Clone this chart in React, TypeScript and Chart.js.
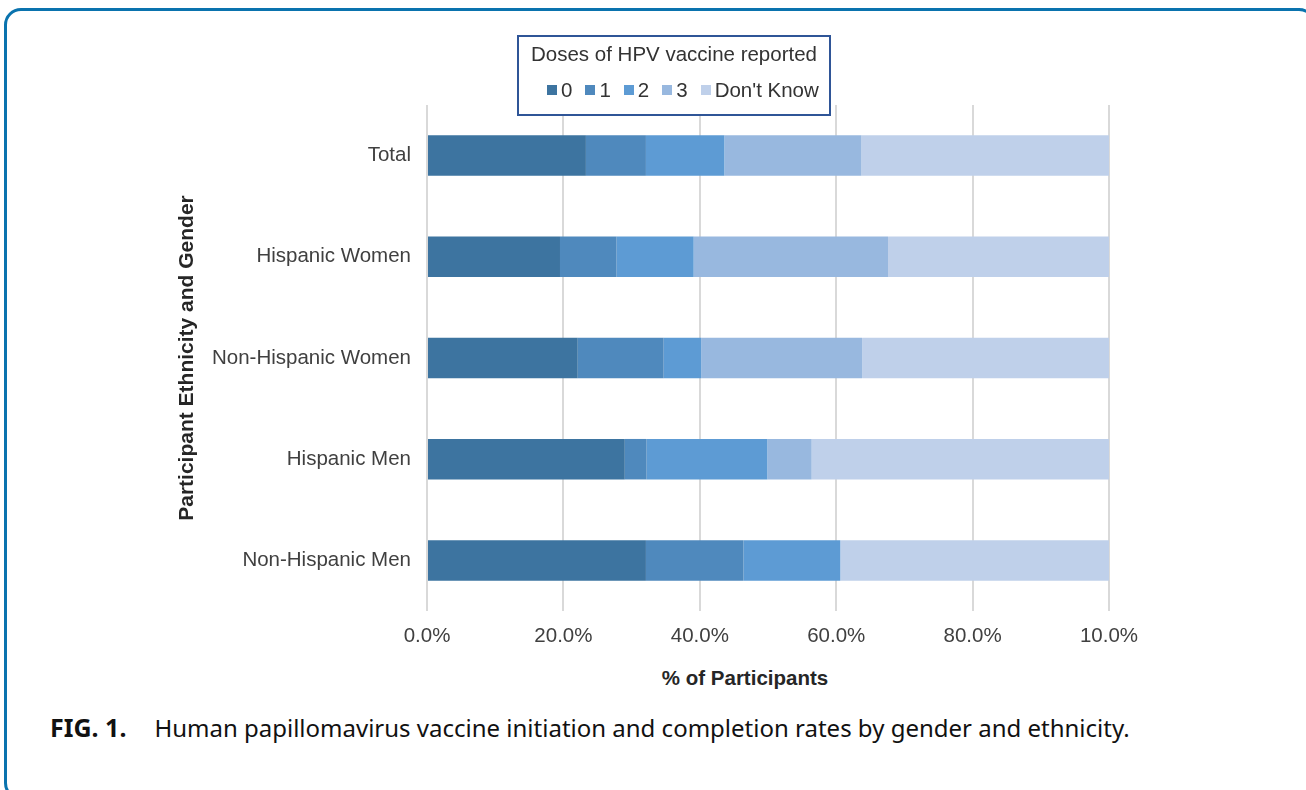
import React, { useEffect, useRef } from "react";
import { Chart, registerables } from "chart.js";

Chart.register(...registerables);

const categories = ["Total", "Hispanic Women", "Non-Hispanic Women", "Hispanic Men", "Non-Hispanic Men"];
const seriesNames = ["0", "1", "2", "3", "Don't Know"];
const dose0 = [23.3, 19.5, 22.1, 29.0, 32.1];
const dose1 = [8.8, 8.3, 12.6, 3.2, 14.3];
const dose2 = [11.5, 11.3, 5.5, 17.7, 14.2];
const dose3 = [20.1, 28.5, 23.6, 6.5, 0];
const dontKnow = [36.3, 32.4, 36.2, 43.6, 39.4];
const seriesColors = ["#3d74a0", "#4f89bd", "#5d9bd4", "#98b8df", "#bfd0ea"];
const xTickLabels = ["0.0%", "20.0%", "40.0%", "60.0%", "80.0%", "10.0%"];

const FONT = "'Liberation Sans', Arial, Helvetica, sans-serif";

export default function App() {
  const ref = useRef<HTMLCanvasElement | null>(null);

  useEffect(() => {
    if (!ref.current) return;
    const values = [dose0, dose1, dose2, dose3, dontKnow];
    const chart = new Chart(ref.current, {
      type: "bar",
      data: {
        labels: categories,
        datasets: seriesNames.map((name, i) => ({
          label: name,
          data: values[i],
          backgroundColor: seriesColors[i],
          borderWidth: 0,
          categoryPercentage: 0.4,
          barPercentage: 1,
        })),
      },
      options: {
        indexAxis: "y",
        animation: false,
        responsive: false,
        devicePixelRatio: 1,
        layout: { padding: { left: 175, top: 105, right: 197, bottom: 9 } },
        plugins: { legend: { display: false }, tooltip: { enabled: false }, title: { display: false } },
        scales: {
          x: {
            stacked: true,
            min: 0,
            max: 100,
            ticks: {
              stepSize: 20,
              padding: 13,
              color: "#404040",
              font: { family: FONT, size: 20.5 },
              callback: (_v: any, i: number) => xTickLabels[i],
            },
            grid: { color: "#d9d9d9", lineWidth: 2, drawTicks: false },
            border: { display: false },
            afterFit: (s: any) => { s.height = 40; },
          },
          y: {
            stacked: true,
            ticks: {
              padding: 16,
              color: "#404040",
              font: { family: FONT, size: 20.5 },
            },
            grid: { display: false, drawTicks: false },
            border: { display: false },
            title: {
              display: true,
              text: "Participant Ethnicity and Gender",
              color: "#262626",
              padding: 0,
              font: { family: FONT, size: 21, weight: "bold" },
            },
            afterFit: (s: any) => { s.width = 252; },
          },
        },
      },
    });
    return () => chart.destroy();
  }, []);

  return (
    <div style={{ position: "fixed", left: 0, top: 0, width: 1306, height: 790, overflow: "hidden", background: "#fff" }}>
      <div
        style={{
          position: "absolute",
          left: 4,
          top: 8,
          width: 1312,
          height: 792,
          boxSizing: "border-box",
          border: "3px solid #0a73ae",
          borderRadius: 17,
        }}
      />
      <canvas ref={ref} width={1306} height={660} style={{ position: "absolute", left: 0, top: 0, width: 1306, height: 660 }} />
      <div
        style={{
          position: "absolute",
          left: 517,
          top: 35,
          width: 314,
          height: 81,
          boxSizing: "border-box",
          border: "2px solid #2f5597",
          background: "#fff",
          fontFamily: FONT,
          fontSize: 20.5,
          color: "#333",
        }}
      >
        <div style={{ position: "absolute", left: 0, right: 0, top: 6, lineHeight: "22px", textAlign: "center", whiteSpace: "nowrap" }}>
          Doses of HPV vaccine reported
        </div>
        <div style={{ position: "absolute", left: 28, top: 42, lineHeight: "22px", display: "flex", alignItems: "center", whiteSpace: "nowrap" }}>
          {seriesNames.map((n, i) => (
            <span key={n} style={{ display: "inline-flex", alignItems: "center", marginRight: 13 }}>
              <span style={{ display: "inline-block", width: 10, height: 10, background: seriesColors[i], marginRight: 4 }} />
              {n}
            </span>
          ))}
        </div>
      </div>
      <div
        style={{
          position: "absolute",
          left: 745,
          top: 667,
          transform: "translateX(-50%)",
          whiteSpace: "nowrap",
          fontFamily: FONT,
          fontWeight: "bold",
          fontSize: 20.5,
          lineHeight: "22px",
          color: "#262626",
        }}
      >
        % of Participants
      </div>
      <div
        style={{
          position: "absolute",
          left: 50,
          top: 711,
          whiteSpace: "nowrap",
          fontFamily: "'Noto Sans', 'Open Sans', sans-serif",
          fontSize: 24,
          lineHeight: "32px",
          color: "#111",
        }}
      >
        <b style={{ fontSize: 25 }}>FIG. 1.</b>
        <span style={{ marginLeft: 28 }}>Human papillomavirus vaccine initiation and completion rates by gender and ethnicity.</span>
      </div>
    </div>
  );
}
